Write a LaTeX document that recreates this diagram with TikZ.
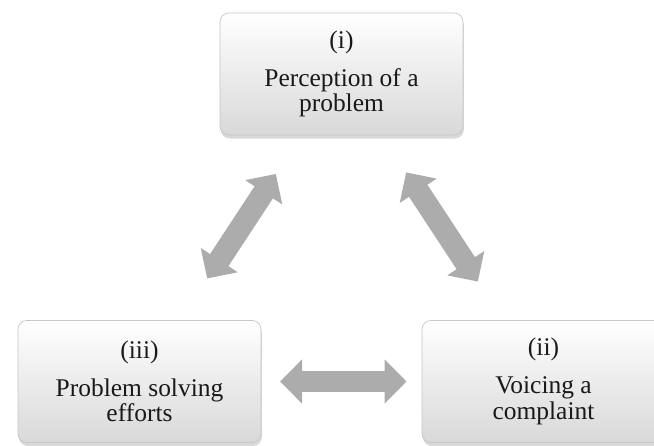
\documentclass[tikz,border=0pt]{standalone}
\usepackage{fontspec}
\setmainfont{Liberation Serif}
\usetikzlibrary{arrows.meta,calc,shadows}

\begin{document}
\begin{tikzpicture}[
    x=0.02cm, y=-0.02cm,
    stage/.style={rectangle, rounded corners=5pt, draw=gray!45, thin,
        top color=white, bottom color=gray!30,
        drop shadow={shadow xshift=0.5pt, shadow yshift=-2pt, opacity=0.3},
        minimum width=4.86cm, minimum height=2.44cm, align=center,
        text=black!90, font=\fontsize{14.5}{14.5}\selectfont},
    link/.style={{Triangle[length=0.44cm, width=0.86cm]}-{Triangle[length=0.44cm, width=0.86cm]},
        line width=0.44cm, draw=gray!65},
]
    \clip (0,0) rectangle (654,446);
    \useasboundingbox (0,0) rectangle (654,446);

    \node[stage] (perc) at (341.5,74) {(i)\\[7pt]Perception of a\\problem};
    \node[stage] (solve) at (139.5,381.5) {(iii)\\[7pt]Problem solving\\efforts};
    \node[stage] (voice) at (543.5,381.5) {(ii)\\[7pt]Voicing a\\complaint};

    \draw[link] ($(perc)!0.325!(solve)$) -- ($(perc)!0.665!(solve)$);
    \draw[link] ($(perc)!0.32!(voice)$) -- ($(perc)!0.675!(voice)$);
    \draw[link] ($(solve)!0.348!(voice)$) -- ($(solve)!0.661!(voice)$);
\end{tikzpicture}
\end{document}
